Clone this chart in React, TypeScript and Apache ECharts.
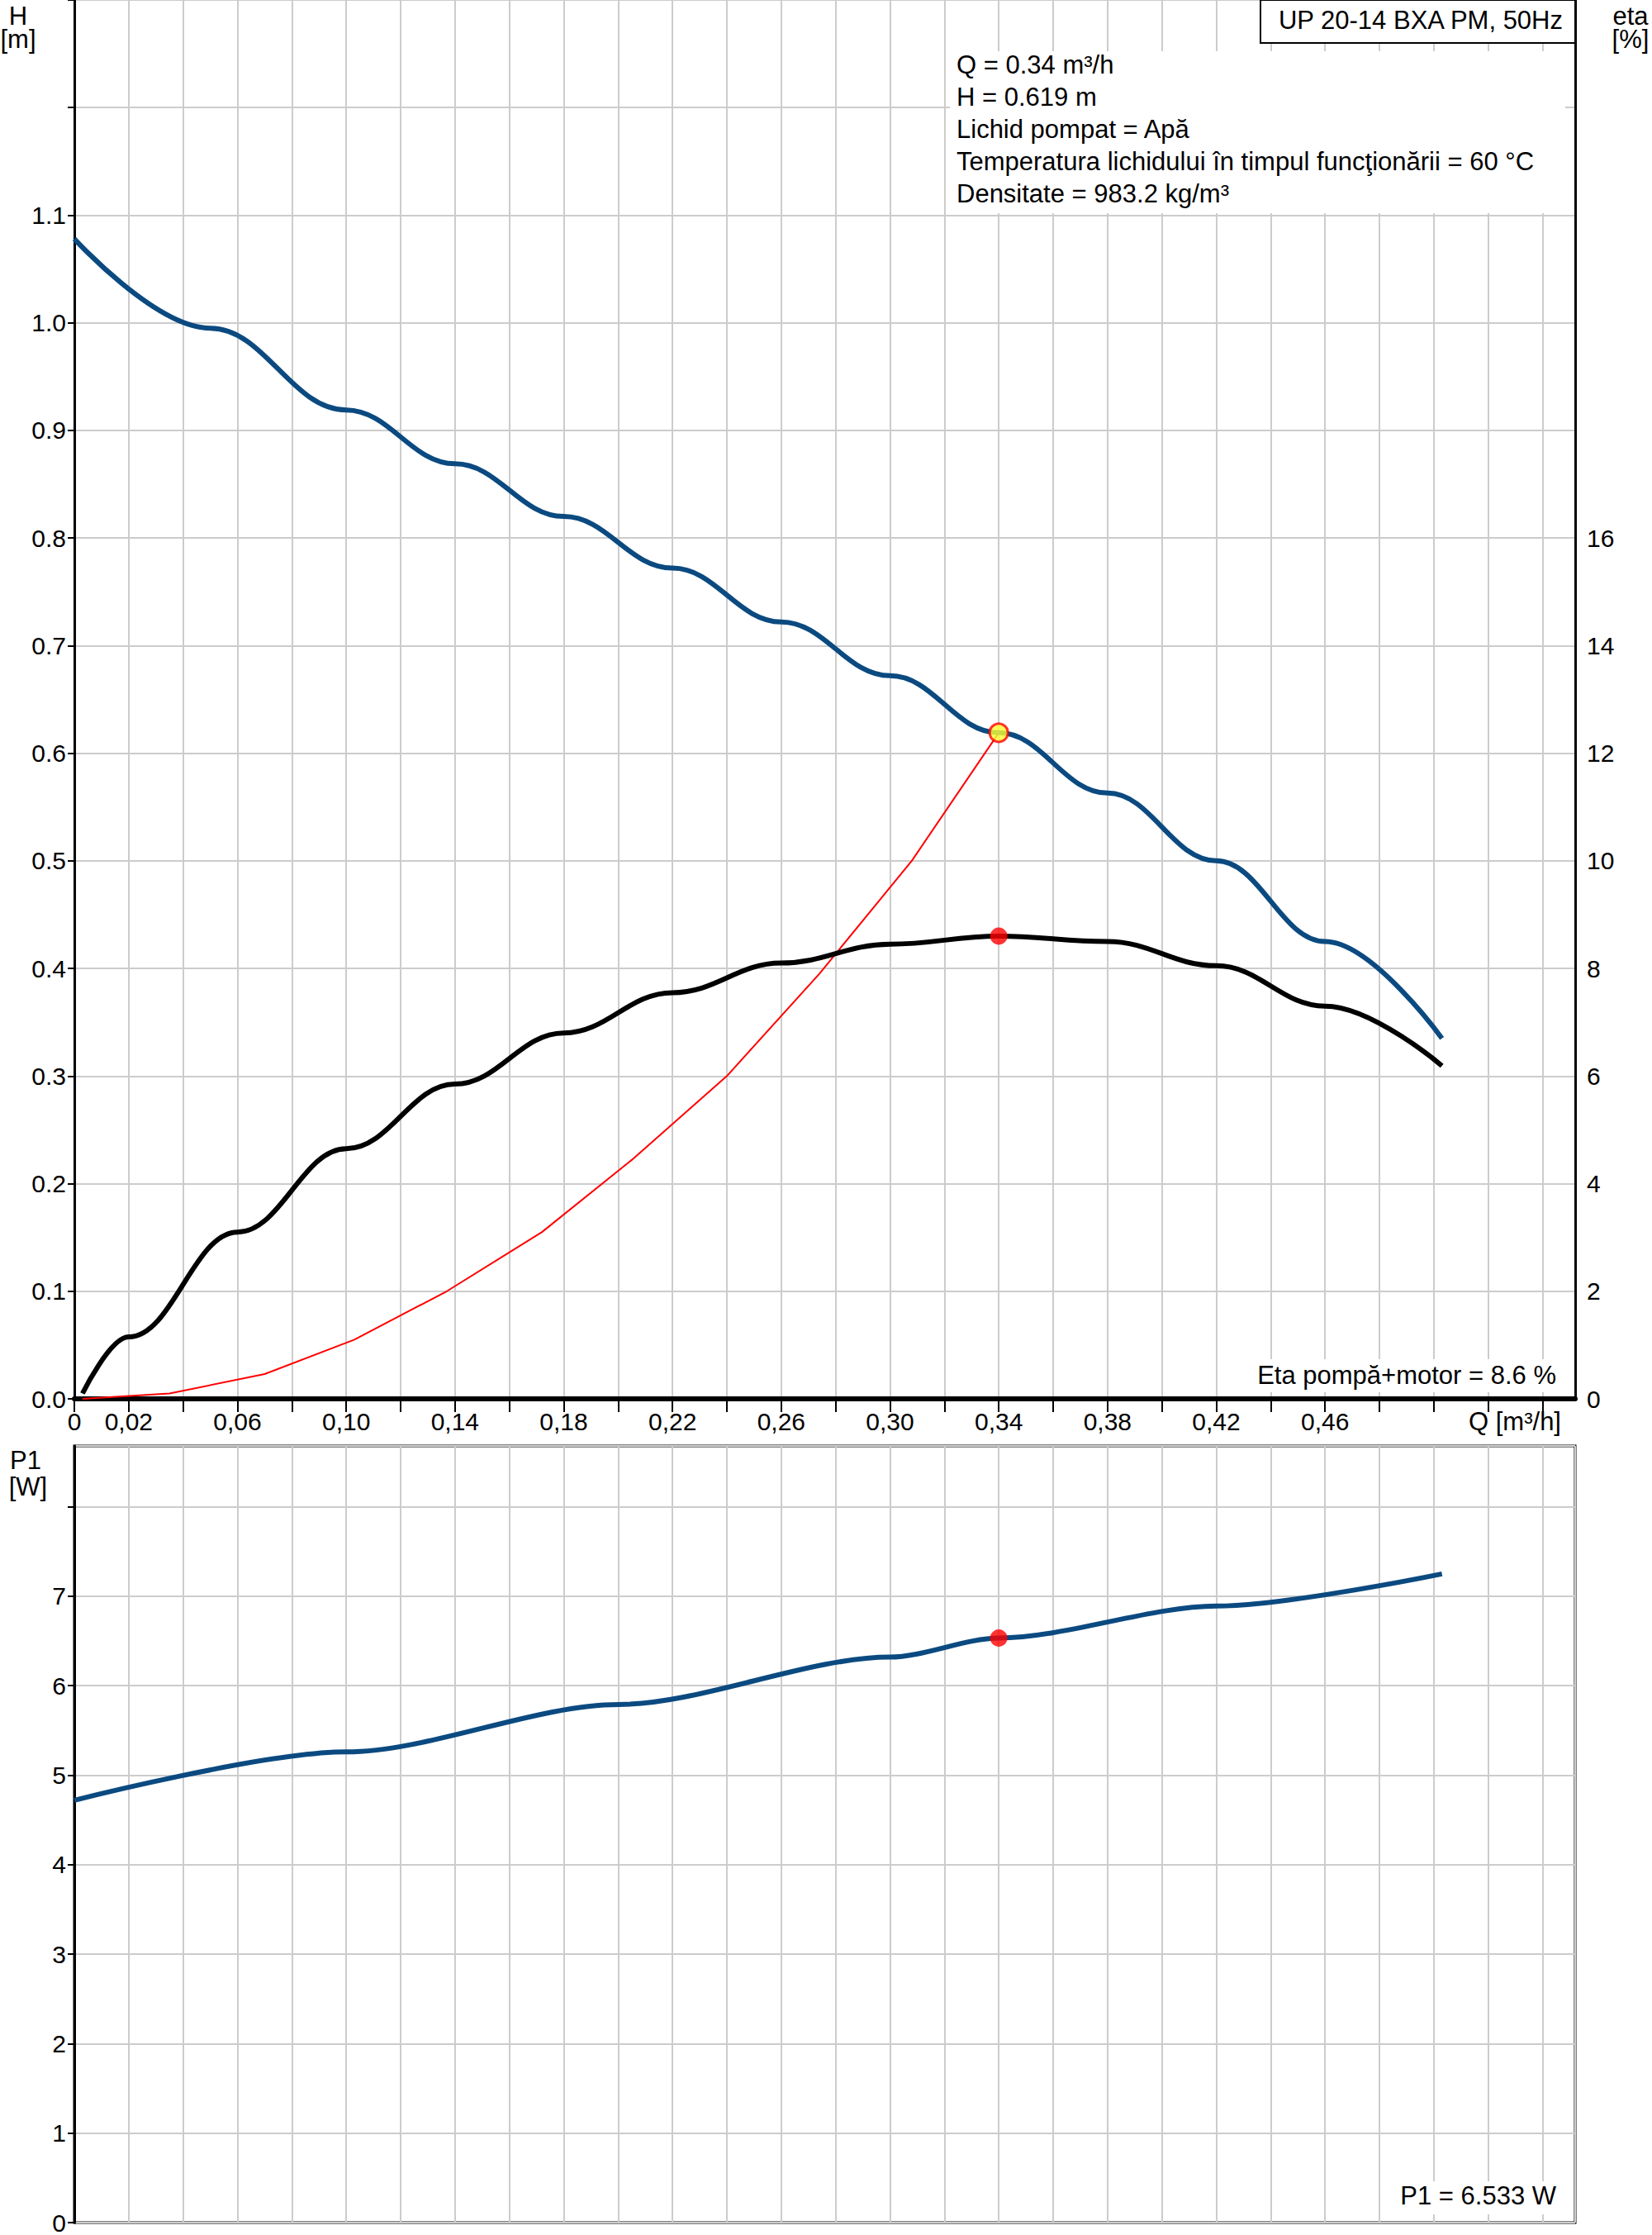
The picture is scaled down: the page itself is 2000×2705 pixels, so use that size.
import { useEffect, useRef } from 'react';
import * as echarts from 'echarts';

// Q [m³/h] für alle Kurven
const qH = [0, 0.05, 0.1, 0.14, 0.18, 0.22, 0.26, 0.3, 0.34, 0.38, 0.42, 0.46, 0.503];
const headH = [1.078, 0.995, 0.919, 0.869, 0.82, 0.772, 0.722, 0.672, 0.619, 0.563, 0.5, 0.425, 0.335];
const qEta = [0.003, 0.02, 0.06, 0.1, 0.14, 0.18, 0.22, 0.26, 0.3, 0.34, 0.38, 0.42, 0.46, 0.503];
const etaVals = [0.1, 1.15, 3.1, 4.65, 5.85, 6.8, 7.55, 8.1, 8.45, 8.6, 8.5, 8.05, 7.3, 6.19];
const qSys = [0.003, 0.035, 0.07, 0.103, 0.137, 0.172, 0.205, 0.24, 0.274, 0.308, 0.34];
const hSys = [0, 0.005, 0.023, 0.055, 0.1, 0.155, 0.222, 0.3, 0.395, 0.5, 0.619];
const qP1 = [0, 0.1, 0.2, 0.3, 0.34, 0.42, 0.503];
const p1Vals = [4.72, 5.26, 5.79, 6.32, 6.533, 6.89, 7.25];
const dutyQ = 0.34;
const dutyH = 0.619;
const dutyEta = 8.6;
const dutyP1 = 6.533;

const infoLines = [
    'Q = 0.34 m³/h',
    'H = 0.619 m',
    'Lichid pompat = Apă',
    'Temperatura lichidului în timpul funcţionării = 60 °C',
    'Densitate = 983.2 kg/m³'
];

export default function App() {
    const chartRef = useRef<HTMLDivElement>(null);

    useEffect(() => {
        if (!chartRef.current) return;
        document.body.style.margin = '0';
        const chart = echarts.init(chartRef.current, undefined, { renderer: 'svg' });
        const fontFamily = "'Liberation Sans Narrow', 'Liberation Sans', Arial, sans-serif";
        const grey = '#cccccc';
        const fs = 30;
        const pair = (xs: number[], ys: number[]) => xs.map((x, i) => [x, ys[i]]);
        const txt = (text: string, x: number, y: number, align = 'left') => ({
            type: 'text', x, y,
            style: { text, fill: '#000', font: `31px ${fontFamily}`, textAlign: align }
        });

        const xCommon = {
            type: 'value' as const, min: 0, max: 0.552, interval: 0.02,
            splitLine: { show: true, lineStyle: { color: grey, width: 2 } },
        };

        chart.setOption({
            animation: false,
            backgroundColor: '#fff',
            grid: [
                { left: 90, right: 93, top: 0, height: 1693, show: true, borderColor: '#000', borderWidth: 2 },
                { left: 90, right: 93, top: 1750, height: 940, show: true, borderColor: '#000', borderWidth: 3 }
            ],
            xAxis: [
                {
                    ...xCommon, gridIndex: 0,
                    axisLine: { lineStyle: { color: '#000', width: 6 } },
                    axisTick: { show: true, length: 16, lineStyle: { color: '#000', width: 2 } },
                    axisLabel: {
                        fontFamily, fontSize: fs, color: '#000', margin: 12, showMaxLabel: false,
                        formatter: (v: number) => {
                            const c = Math.round(v * 100);
                            if (c === 0) return '0';
                            if (c % 4 === 2 && c <= 46) return v.toFixed(2).replace('.', ',');
                            return '';
                        }
                    }
                },
                {
                    ...xCommon, gridIndex: 1,
                    axisLine: { show: false }, axisTick: { show: false }, axisLabel: { show: false }
                }
            ],
            yAxis: [
                {
                    type: 'value', gridIndex: 0, min: 0, max: 1.3, interval: 0.1,
                    axisLine: { show: true, lineStyle: { color: '#000', width: 3 } },
                    axisTick: { show: true, length: 8, lineStyle: { color: '#000', width: 2 } },
                    axisLabel: {
                        fontFamily, fontSize: fs, color: '#000', margin: 10,
                        formatter: (v: number) => (v <= 1.1001 ? v.toFixed(1) : '')
                    },
                    splitLine: { show: true, lineStyle: { color: grey, width: 2 } }
                },
                {
                    type: 'value', gridIndex: 0, position: 'right', min: 0, max: 26, interval: 2,
                    axisLine: { show: true, lineStyle: { color: '#000', width: 3 } },
                    axisTick: { show: false },
                    axisLabel: {
                        fontFamily, fontSize: fs, color: '#000', margin: 14,
                        formatter: (v: number) => (v <= 16 ? String(v) : '')
                    },
                    splitLine: { show: false }
                },
                {
                    type: 'value', gridIndex: 1, min: 0, max: 8.68, interval: 1,
                    axisLine: { show: true, lineStyle: { color: '#000', width: 3 } },
                    axisTick: { show: true, length: 8, lineStyle: { color: '#000', width: 2 } },
                    axisLabel: {
                        fontFamily, fontSize: fs, color: '#000', margin: 10, showMaxLabel: false,
                        formatter: (v: number) => (v <= 7 ? String(v) : '')
                    },
                    splitLine: { show: true, lineStyle: { color: grey, width: 2 } }
                }
            ],
            series: [
                {
                    type: 'line', xAxisIndex: 0, yAxisIndex: 0, data: pair(qSys, hSys),
                    symbol: 'none', lineStyle: { color: '#ff0000', width: 2 }, z: 3
                },
                {
                    type: 'line', xAxisIndex: 0, yAxisIndex: 0, data: pair(qH, headH), smooth: 0.4,
                    smoothMonotone: 'x', symbol: 'none', lineStyle: { color: '#0b4a80', width: 6 }, z: 4
                },
                {
                    type: 'line', xAxisIndex: 0, yAxisIndex: 1, data: pair(qEta, etaVals), smooth: 0.4,
                    smoothMonotone: 'x', symbol: 'none', lineStyle: { color: '#000', width: 6 }, z: 4
                },
                {
                    type: 'line', xAxisIndex: 1, yAxisIndex: 2, data: pair(qP1, p1Vals), smooth: 0.3,
                    smoothMonotone: 'x', symbol: 'none', lineStyle: { color: '#0b4a80', width: 6 }, z: 4
                },
                {
                    type: 'scatter', xAxisIndex: 0, yAxisIndex: 0, data: [[dutyQ, dutyH]], symbolSize: 22,
                    itemStyle: { color: '#ffff33', borderColor: '#ff0000', borderWidth: 3 }, z: 6
                },
                {
                    type: 'scatter', xAxisIndex: 0, yAxisIndex: 1, data: [[dutyQ, dutyEta]], symbolSize: 21,
                    itemStyle: { color: '#ff0000' }, z: 6
                },
                {
                    type: 'scatter', xAxisIndex: 1, yAxisIndex: 2, data: [[dutyQ, dutyP1]], symbolSize: 21,
                    itemStyle: { color: '#ff0000' }, z: 6
                }
            ],
            graphic: [
                {
                    type: 'rect', shape: { x: 1526, y: 0, width: 381, height: 52 },
                    style: { fill: '#fff', stroke: '#000', lineWidth: 2 }
                },
                txt('UP 20-14 BXA PM, 50Hz', 1892, 9, 'right'),
                {
                    type: 'rect', shape: { x: 1150, y: 62, width: 745, height: 196 },
                    style: { fill: '#fff' }
                },
                ...infoLines.map((l, i) => txt(l, 1158, 63 + i * 39)),
                {
                    type: 'rect', shape: { x: 1500, y: 1645, width: 390, height: 40 },
                    style: { fill: '#fff' }
                },
                txt('Eta pompă+motor = 8.6 %', 1884, 1649, 'right'),
                {
                    type: 'rect', shape: { x: 1680, y: 2640, width: 215, height: 40 },
                    style: { fill: '#fff' }
                },
                txt('P1 = 6.533 W', 1884, 2642, 'right'),
                txt('H', 22, 4, 'center'),
                txt('[m]', 22, 32, 'center'),
                txt('eta', 1974, 4, 'center'),
                txt('[%]', 1974, 32, 'center'),
                txt('P1', 31, 1752, 'center'),
                txt('[W]', 34, 1784, 'center'),
                txt('Q [m³/h]', 1834, 1705, 'center')
            ].map((g: any) => ({ z: 10, ...g }))
        });

        return () => chart.dispose();
    }, []);

    return <div ref={chartRef} style={{ width: 2000, height: 2705 }} />;
}
